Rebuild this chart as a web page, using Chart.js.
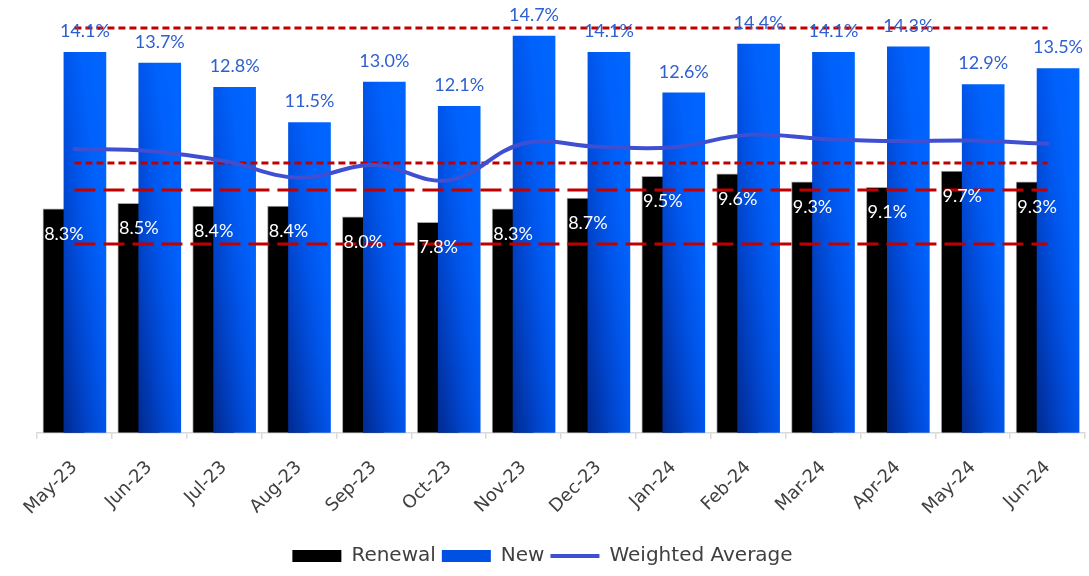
<!DOCTYPE html>
<html>
<head>
<meta charset="utf-8">
<script src="https://cdn.jsdelivr.net/npm/chart.js@4/dist/chart.umd.min.js"></script>
<style>
  html, body { margin: 0; padding: 0; background: #fff; }
  #wrap { width: 1089px; height: 576px; position: relative; }
</style>
</head>
<body>
<div id="wrap"><canvas id="chart"></canvas></div>
<script>
const months = ['May-23', 'Jun-23', 'Jul-23', 'Aug-23', 'Sep-23', 'Oct-23', 'Nov-23',
                'Dec-23', 'Jan-24', 'Feb-24', 'Mar-24', 'Apr-24', 'May-24', 'Jun-24'];
const renewal = [8.3, 8.5, 8.4, 8.4, 8.0, 7.8, 8.3, 8.7, 9.5, 9.6, 9.3, 9.1, 9.7, 9.3];
const newRate = [14.1, 13.7, 12.8, 11.5, 13.0, 12.1, 14.7, 14.1, 12.6, 14.4, 14.1, 14.3, 12.9, 13.5];
const weighted = [10.52, 10.44, 10.07, 9.45, 9.92, 9.36, 10.72, 10.6, 10.58, 11.04, 10.89, 10.81, 10.83, 10.71];
const refLevels = [15, 10, 9, 7];

const BAR_W = 42;
const SHIFT = 0.14;   // half-overlap offset, in category units
const labelColor = '#404040';
const newLabelColor = '#2f60d0';
const refStyles = [[7, 4], [7, 4], [21, 8], [21, 8]];

// diagonal shade per bar: dark at the bottom-left corner, bright top-right
const barShade = {
    id: 'barShade',
    beforeDatasetDraw(chart, args) {
        if (args.index !== 1) return;
        const c = chart.ctx;
        args.meta.data.forEach(el => {
            const w = el.width, h = Math.max(1, el.base - el.y);
            const xL = el.x - w / 2, yB = el.base;
            const s = 2 / (1 / (w * w) + 1 / (h * h));
            const g = c.createLinearGradient(xL, yB, xL + s / w, yB - s / h);
            g.addColorStop(0, '#002a90');
            g.addColorStop(0.3, '#0045cc');
            g.addColorStop(0.5, '#0055ea');
            g.addColorStop(0.7, '#0061fb');
            g.addColorStop(1, '#0066ff');
            el.options.backgroundColor = g;
        });
    }
};

const valueLabels = {
    id: 'valueLabels',
    afterDatasetsDraw(chart) {
        const c = chart.ctx;
        c.save();
        c.textAlign = 'center';
        c.textBaseline = 'middle';
        c.font = '18px Lato';
        chart.getDatasetMeta(0).data.forEach((el, i) => {
            c.fillStyle = '#ffffff';
            c.fillText(renewal[i].toFixed(1) + '%', el.x, el.y + 25);
        });
        chart.getDatasetMeta(1).data.forEach((el, i) => {
            c.fillStyle = newLabelColor;
            c.fillText(newRate[i].toFixed(1) + '%', el.x, el.y - 21);
        });
        c.restore();
    }
};

const refDatasets = refLevels.map((lvl, k) => ({
    type: 'line',
    label: 'ref' + k,
    data: months.map(() => lvl),
    xAxisID: 'x',
    borderColor: '#c00000',
    borderWidth: 3,
    borderDash: refStyles[k],
    pointRadius: 0,
    fill: false,
    order: 0,
}));

new Chart(document.getElementById('chart'), {
    type: 'bar',
    data: {
        labels: months,
        datasets: [
            {
                label: 'Renewal',
                data: renewal.map((v, i) => ({ x: i - SHIFT, y: v })),
                xAxisID: 'xb',
                backgroundColor: '#000000',
                borderColor: '#a6a6a6',
                borderWidth: 1,
                borderSkipped: 'bottom',
                barThickness: BAR_W,
                grouped: false,
                pointStyle: 'rect',
                order: 2,
            },
            {
                label: 'New',
                data: newRate.map((v, i) => ({ x: i + SHIFT, y: v })),
                xAxisID: 'xb',
                backgroundColor: () => '#0055ea',
                borderWidth: 0,
                barThickness: BAR_W,
                grouped: false,
                pointStyle: 'rect',
                order: 1,
            },
            {
                type: 'line',
                label: 'Weighted Average',
                data: weighted,
                xAxisID: 'x',
                borderColor: '#3f4fd2',
                borderWidth: 4,
                borderCapStyle: 'round',
                tension: 0.4,
                pointRadius: 0,
                pointStyle: 'line',
                fill: false,
                order: 0,
            },
            ...refDatasets,
        ],
    },
    options: {
        responsive: true,
        maintainAspectRatio: false,
        animation: false,
        layout: { padding: { left: 0, right: 4, top: 1, bottom: 0 } },
        plugins: {
            tooltip: { enabled: false },
            legend: {
                position: 'bottom',
                labels: {
                    usePointStyle: true,
                    pointStyleWidth: 49,
                    boxHeight: 12,
                    padding: 6,
                    color: labelColor,
                    font: { family: 'DejaVu Sans', size: 20 },
                    filter: item => item.datasetIndex < 3,
                    sort: (a, b) => a.datasetIndex - b.datasetIndex,
                    generateLabels(chart) {
                        const items = Chart.defaults.plugins.legend.labels.generateLabels(chart);
                        items.forEach(it => {
                            if (it.datasetIndex === 0) { it.lineWidth = 0; it.fillStyle = '#000'; }
                            if (it.datasetIndex === 1) { it.lineWidth = 0; it.fillStyle = '#0050e4'; }
                        });
                        return items;
                    },
                },
            },
        },
        scales: {
            x: {
                type: 'category',
                offset: true,
                grid: {
                    offset: true,
                    drawOnChartArea: false,
                    tickLength: 6,
                    color: '#d9d9d9',
                    lineWidth: 1.5,
                },
                border: { color: '#d9d9d9', width: 1.5 },
                ticks: {
                    color: labelColor,
                    autoSkip: false,
                    minRotation: 45,
                    maxRotation: 45,
                    padding: 18,
                    font: { family: 'DejaVu Sans', size: 18 },
                },
                afterFit(scale) { scale.height += 3; },
            },
            xb: {
                type: 'linear',
                display: false,
                offset: false,
                min: -0.5,
                max: 13.5,
            },
            y: {
                min: 0,
                max: 16,
                ticks: { display: false },
                grid: { display: false },
                border: { display: false },
                afterFit(scale) { scale.width = 37; },
            },
        },
    },
    plugins: [barShade, valueLabels],
});
</script>
</body>
</html>
